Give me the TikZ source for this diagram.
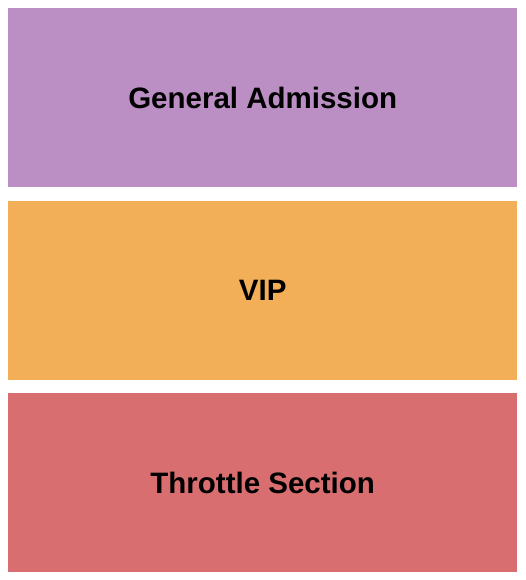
\documentclass[tikz,border=0pt]{standalone}
\usepackage{fontspec}
\setmainfont{Liberation Sans}
\definecolor{gacol}{RGB}{187,143,195}
\definecolor{vipcol}{RGB}{243,174,88}
\definecolor{thrcol}{RGB}{216,110,111}
\begin{document}
\begin{tikzpicture}[x=1pt,y=-1pt,
  section/.style={draw=none,minimum width=509pt,minimum height=179pt,inner sep=0pt,anchor=north west,
    font=\fontsize{29.5pt}{34pt}\selectfont\bfseries,text=black}]
\useasboundingbox[fill=white] (0,0) rectangle (525,580);
\node[section,fill=gacol] (ga) at (8,8) {General Admission};
\node[section,fill=vipcol] (vip) at (8,201) {VIP};
\node[section,fill=thrcol] (thr) at (8,393) {Throttle Section};
\end{tikzpicture}
\end{document}
